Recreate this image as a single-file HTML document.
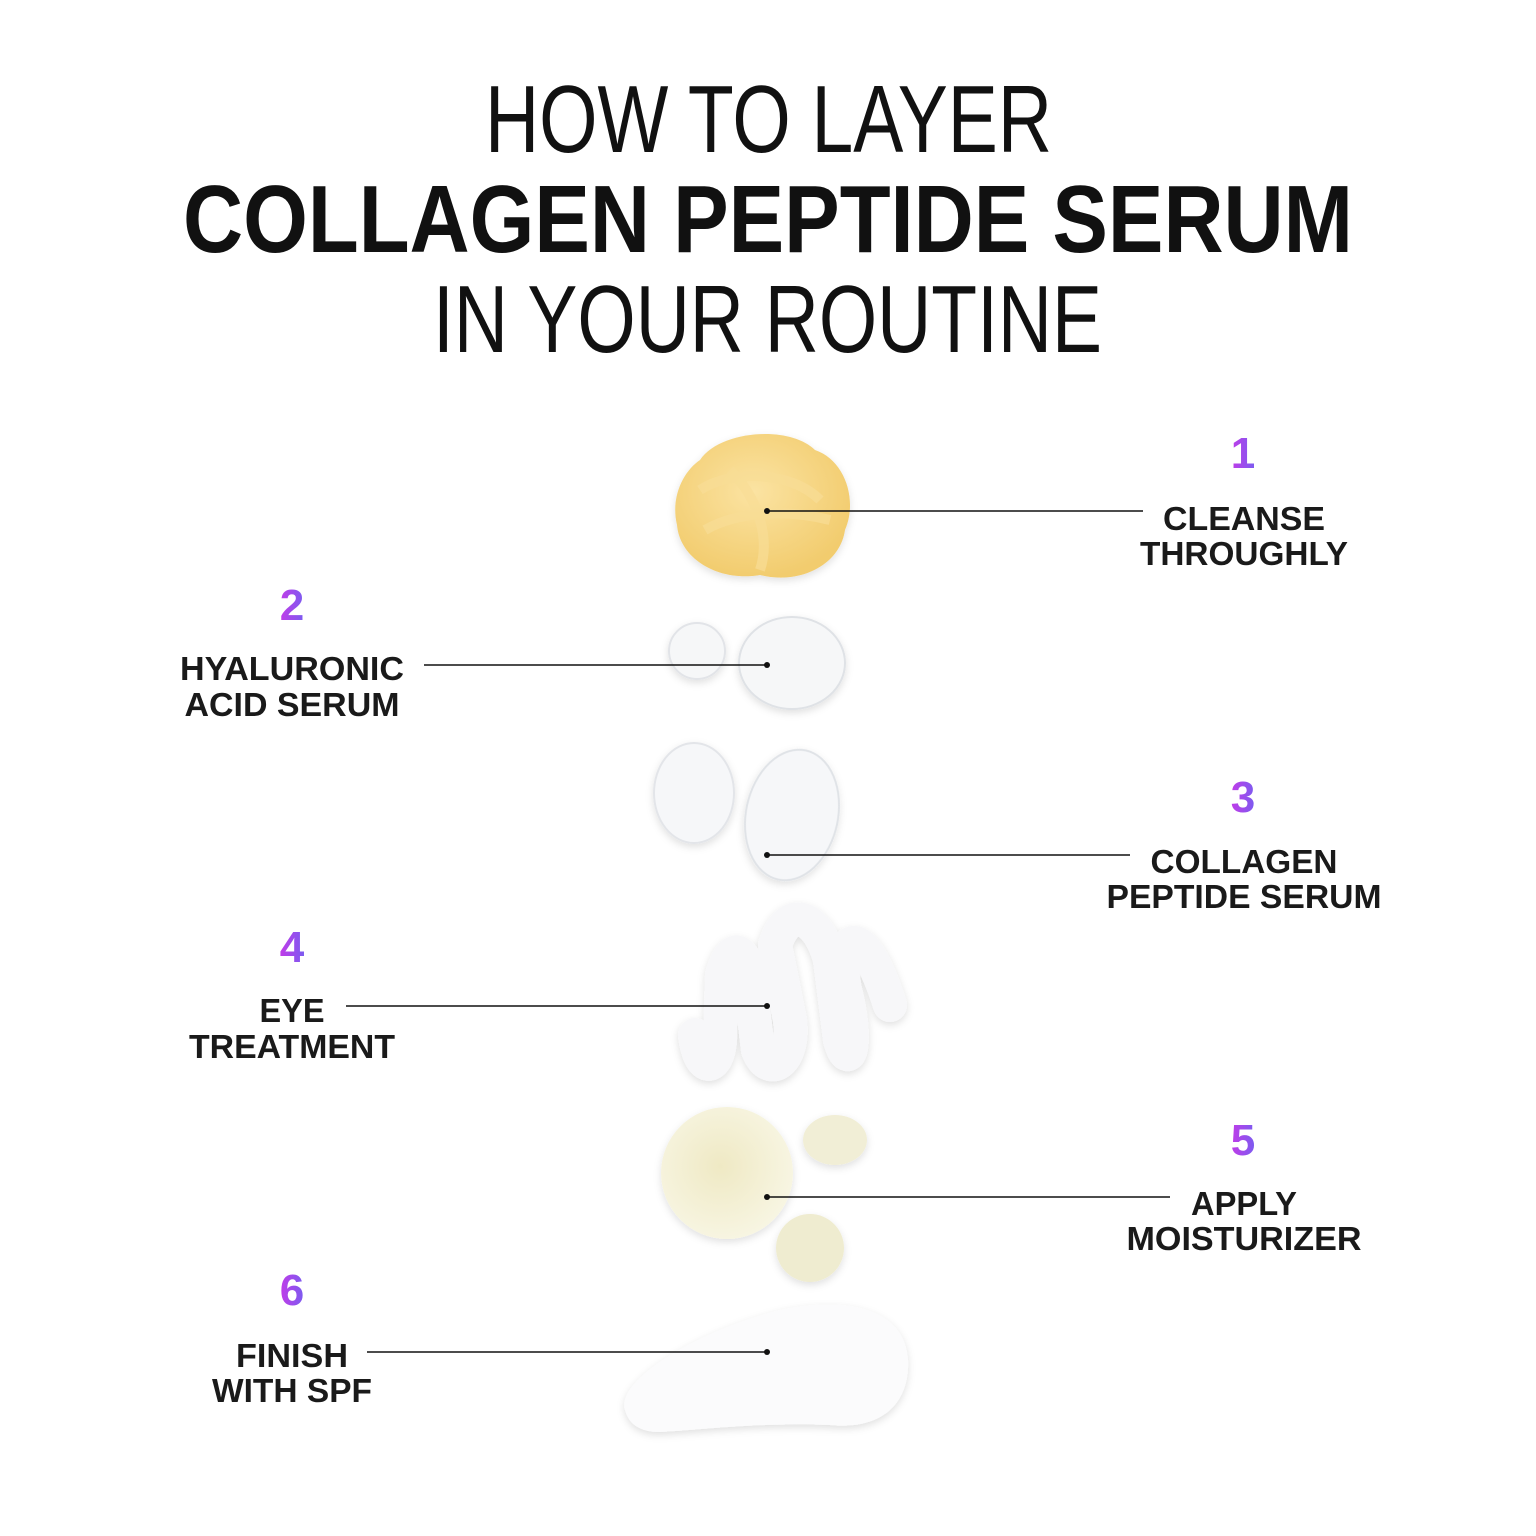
<!DOCTYPE html>
<html><head><meta charset="utf-8"><style>
html,body{margin:0;padding:0;background:#fff}
svg{display:block}
.t{font-family:"Liberation Sans",sans-serif;fill:#111}
.l{font-family:"Liberation Sans",sans-serif;font-weight:bold;font-size:33px;fill:#1a1a1a}
.n{font-family:"Liberation Sans",sans-serif;font-weight:bold;font-size:44px;fill:url(#g)}
</style></head><body>
<svg width="1536" height="1536" viewBox="0 0 1536 1536" xmlns="http://www.w3.org/2000/svg">
<defs>
<linearGradient id="g" x1="0" y1="0" x2="1" y2="0"><stop offset="0" stop-color="#c23be8"/><stop offset="1" stop-color="#7a5cf0"/></linearGradient>
<radialGradient id="y" cx="0.45" cy="0.4" r="0.6"><stop offset="0" stop-color="#fbe3a2"/><stop offset="1" stop-color="#f2cc6e"/></radialGradient>
<radialGradient id="c" cx="0.45" cy="0.45" r="0.6"><stop offset="0" stop-color="#efe9c4"/><stop offset="1" stop-color="#f8f6e4"/></radialGradient>
<filter id="sh" x="-20%" y="-20%" width="140%" height="140%"><feDropShadow dx="0" dy="3" stdDeviation="4" flood-color="#000" flood-opacity="0.12"/></filter>
</defs>
<rect width="1536" height="1536" fill="#fff"/>
<text class="t" x="485" y="152" font-size="96" textLength="567" lengthAdjust="spacingAndGlyphs" font-weight="300">HOW TO LAYER</text>
<text class="t" x="183" y="252" font-size="96" font-weight="bold" textLength="1170" lengthAdjust="spacingAndGlyphs">COLLAGEN PEPTIDE SERUM</text>
<text class="t" x="433" y="352" font-size="96" textLength="669" lengthAdjust="spacingAndGlyphs">IN YOUR ROUTINE</text>

<path filter="url(#sh)" fill="url(#y)" d="M700 460 C720 430 790 425 815 450 C845 460 858 500 845 530 C840 565 800 585 760 575 C720 582 680 560 677 525 C670 495 685 470 700 460Z"/>
<path d="M700 490 C730 470 790 470 820 500 M705 530 C740 510 790 510 830 520 M730 470 C760 500 770 540 760 570" stroke="#f8dd95" stroke-width="10" fill="none" opacity="0.7"/>

<circle cx="697" cy="651" r="28" fill="#f6f7f8" stroke="#e2e4e8" stroke-width="2" filter="url(#sh)"/>
<ellipse cx="792" cy="663" rx="53" ry="46" fill="#f6f7f8" stroke="#dfe2e6" stroke-width="2" filter="url(#sh)"/>
<ellipse cx="694" cy="793" rx="40" ry="50" fill="#f6f7f9" stroke="#e3e5e9" stroke-width="2" filter="url(#sh)"/>
<ellipse cx="792" cy="815" rx="46" ry="66" transform="rotate(12 792 815)" fill="#f6f7f9" stroke="#e0e3e7" stroke-width="2" filter="url(#sh)"/>

<path filter="url(#sh)" d="M695 1035 C700 1075 718 1070 720 1040 L722 975 C735 930 752 960 752 1000 L758 1050 C770 1080 795 1060 790 1020 L775 945 C790 900 820 920 830 960 L840 1040 C850 1075 858 1040 845 990 C835 940 860 910 890 1005" stroke="#f7f7f9" stroke-width="34" stroke-linecap="round" stroke-linejoin="round" fill="none"/>

<circle cx="727" cy="1173" r="66" fill="url(#c)" filter="url(#sh)"/>
<ellipse cx="835" cy="1140" rx="32" ry="25" fill="#f1eed6" filter="url(#sh)"/>
<circle cx="810" cy="1248" r="34" fill="#efecd0" filter="url(#sh)"/>

<path filter="url(#sh)" fill="#fbfbfc" d="M625 1410 C615 1380 700 1330 780 1310 C850 1295 905 1310 908 1360 C910 1405 880 1430 830 1425 C760 1422 700 1430 660 1432 C635 1432 628 1420 625 1410Z"/>

<g stroke="#111" stroke-width="1.6">
<line x1="767" y1="511" x2="1143" y2="511"/>
<line x1="424" y1="665" x2="767" y2="665"/>
<line x1="767" y1="855" x2="1130" y2="855"/>
<line x1="346" y1="1006" x2="767" y2="1006"/>
<line x1="767" y1="1197" x2="1170" y2="1197"/>
<line x1="367" y1="1352" x2="767" y2="1352"/>
</g>
<g fill="#111">
<circle cx="767" cy="511" r="3"/><circle cx="767" cy="665" r="3"/><circle cx="767" cy="855" r="3"/>
<circle cx="767" cy="1006" r="3"/><circle cx="767" cy="1197" r="3"/><circle cx="767" cy="1352" r="3"/>
</g>

<g text-anchor="middle" lengthAdjust="spacingAndGlyphs">
<text class="n" x="1243" y="468">1</text>
<text class="l" x="1244" y="530" textLength="162" lengthAdjust="spacingAndGlyphs">CLEANSE</text>
<text class="l" x="1244" y="565" textLength="208" lengthAdjust="spacingAndGlyphs">THROUGHLY</text>
<text class="n" x="292" y="620">2</text>
<text class="l" x="292" y="680" textLength="224" lengthAdjust="spacingAndGlyphs">HYALURONIC</text>
<text class="l" x="292" y="716" textLength="215" lengthAdjust="spacingAndGlyphs">ACID SERUM</text>
<text class="n" x="1243" y="812">3</text>
<text class="l" x="1244" y="873" textLength="187" lengthAdjust="spacingAndGlyphs">COLLAGEN</text>
<text class="l" x="1244" y="908" textLength="275" lengthAdjust="spacingAndGlyphs">PEPTIDE SERUM</text>
<text class="n" x="292" y="962">4</text>
<text class="l" x="292" y="1022" textLength="65" lengthAdjust="spacingAndGlyphs">EYE</text>
<text class="l" x="292" y="1058" textLength="206" lengthAdjust="spacingAndGlyphs">TREATMENT</text>
<text class="n" x="1243" y="1155">5</text>
<text class="l" x="1244" y="1215" textLength="106" lengthAdjust="spacingAndGlyphs">APPLY</text>
<text class="l" x="1244" y="1250" textLength="235" lengthAdjust="spacingAndGlyphs">MOISTURIZER</text>
<text class="n" x="292" y="1305">6</text>
<text class="l" x="292" y="1367" textLength="112" lengthAdjust="spacingAndGlyphs">FINISH</text>
<text class="l" x="292" y="1402" textLength="160" lengthAdjust="spacingAndGlyphs">WITH SPF</text>
</g>
</svg>
</body></html>
